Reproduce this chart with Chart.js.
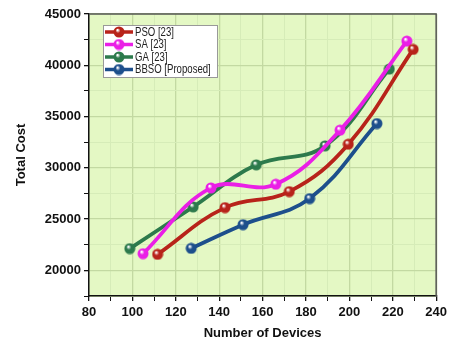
<!DOCTYPE html>
<html>
<head>
<meta charset="utf-8">
<script src="https://cdn.jsdelivr.net/npm/chart.js@4.4.0/dist/chart.umd.min.js"></script>
<style>
  html, body { margin:0; padding:0; background:#fff; }
  #wrap { width:451px; height:345px; position:relative; }
</style>
</head>
<body>
<div id="wrap"><canvas id="chart"></canvas></div>
<script>
// data ----------------------------------------------------------
const seriesNames = ["PSO [23]", "SA [23]", "GA [23]", "BBSO [Proposed]"];
const psoX  = [111.6, 142.7, 172.3, 199.5, 229.4];
const psoY  = [21560, 26120, 27680, 32300, 41550];
const saX   = [104.9, 136.2, 166.1, 195.7, 226.5];
const saY   = [21630, 28040, 28400, 33670, 42360];
const gaX   = [98.8, 128.0, 157.1, 188.8, 218.4];
const gaY   = [22120, 26190, 30290, 32140, 39630];
const bbsoX = [127.1, 151.0, 181.7, 212.7];
const bbsoY = [22150, 24460, 27000, 34320];

const colors = ["#b8231a", "#ea1fe6", "#2d7a4c", "#1d4f8c"];
const FONT = "'Liberation Sans', Arial, sans-serif";

// glossy ball markers
function ball(color) {
  const c = document.createElement("canvas");
  c.width = 12; c.height = 12;
  const g = c.getContext("2d");
  const grad = g.createRadialGradient(4.5, 4, 0.5, 6, 6, 6);
  grad.addColorStop(0, "#ffffff");
  grad.addColorStop(0.35, color);
  grad.addColorStop(1, color);
  g.fillStyle = grad;
  g.beginPath(); g.arc(6, 6, 5.5, 0, Math.PI * 2); g.fill();
  return c;
}

function pts(xs, ys) { return xs.map((x, i) => ({ x: x, y: ys[i] })); }

const allData = [pts(psoX, psoY), pts(saX, saY), pts(gaX, gaY), pts(bbsoX, bbsoY)];
const balls = colors.map(ball);

// plot background + frame + legend
const frame = {
  id: "frame",
  beforeDraw(chart) {
    const { ctx, chartArea: a } = chart;
    ctx.save();
    ctx.fillStyle = "#e4f8c4";
    ctx.fillRect(a.left, a.top, a.right - a.left, a.bottom - a.top);
    ctx.restore();
  },
  afterDraw(chart) {
    const { ctx, chartArea: a } = chart;
    ctx.save();
    ctx.strokeStyle = "#555";
    ctx.lineWidth = 1.5;
    ctx.beginPath();
    ctx.moveTo(a.left, a.top); ctx.lineTo(a.right, a.top); ctx.lineTo(a.right, a.bottom);
    ctx.stroke();

    // legend inside plot
    const lx = 103, ly = 25, lw = 114, lh = 52;
    ctx.fillStyle = "#fff";
    ctx.fillRect(lx, ly, lw, lh);
    ctx.strokeStyle = "#999";
    ctx.lineWidth = 1;
    ctx.strokeRect(lx + 0.5, ly + 0.5, lw, lh);
    ctx.font = "12px " + FONT;
    ctx.textBaseline = "middle";
    seriesNames.forEach((n, i) => {
      const y = ly + 7 + i * 12.5;
      ctx.strokeStyle = colors[i];
      ctx.lineWidth = 3.5;
      ctx.beginPath(); ctx.moveTo(lx + 2, y); ctx.lineTo(lx + 30, y); ctx.stroke();
      ctx.drawImage(balls[i], lx + 10, y - 6);
      ctx.fillStyle = "#222";
      ctx.save();
      ctx.translate(lx + 32, y + 0.5);
      ctx.scale(0.8, 1);
      ctx.fillText(n, 0, 0);
      ctx.restore();
    });
    ctx.restore();
  }
};

new Chart(document.getElementById("chart"), {
  type: "scatter",
  data: {
    datasets: allData.map((d, i) => ({
      label: seriesNames[i],
      data: d,
      showLine: true,
      borderColor: colors[i],
      borderWidth: 3.8,
      tension: 0.4,
      pointStyle: balls[i],
      pointRadius: 6,
      pointHoverRadius: 6
    }))
  },
  options: {
    responsive: true,
    maintainAspectRatio: false,
    animation: false,
    layout: { padding: { top: 14, right: 10, left: 0, bottom: 0 } },
    plugins: { legend: { display: false }, tooltip: { enabled: false } },
    scales: {
      x: {
        type: "linear", min: 80, max: 240,
        afterFit(s) { s.height = 49; },
        ticks: {
          stepSize: 10, autoSkip: false, maxRotation: 0, padding: 4,
          color: "#111", font: { family: FONT, size: 13, weight: "bold" },
          callback: v => (v % 20 === 0 ? v : "")
        },
        grid: {
          color: c => (c.tick && c.tick.value % 20 === 0 ? "#c3d9a2" : "#d6ecb8"),
          lineWidth: c => (c.tick && c.tick.value % 20 === 0 ? 1.3 : 1),
          tickColor: "#111", tickLength: 5, drawOnChartArea: true
        },
        border: { color: "#111", width: 1.5 },
        title: {
          display: true, text: "Number of Devices", color: "#111",
          font: { family: FONT, size: 13, weight: "bold" }, padding: { top: 6 }
        }
      },
      y: {
        type: "linear", min: 17500, max: 45000,
        afterFit(s) { s.width = 89; },
        ticks: {
          stepSize: 2500, autoSkip: false, padding: 3,
          color: "#111", font: { family: FONT, size: 13, weight: "bold" },
          callback: v => (v % 5000 === 0 ? v : "")
        },
        grid: {
          color: c => (c.tick && c.tick.value % 5000 === 0 ? "#c3d9a2" : "#d6ecb8"),
          lineWidth: c => (c.tick && c.tick.value % 5000 === 0 ? 1.3 : 1),
          tickColor: "#111", tickLength: 5
        },
        border: { color: "#111", width: 1.5 },
        title: {
          display: true, text: "Total Cost", color: "#111",
          font: { family: FONT, size: 13, weight: "bold" }, padding: { top: 14, bottom: 4 }
        }
      }
    }
  },
  plugins: [frame]
});
</script>
</body>
</html>
